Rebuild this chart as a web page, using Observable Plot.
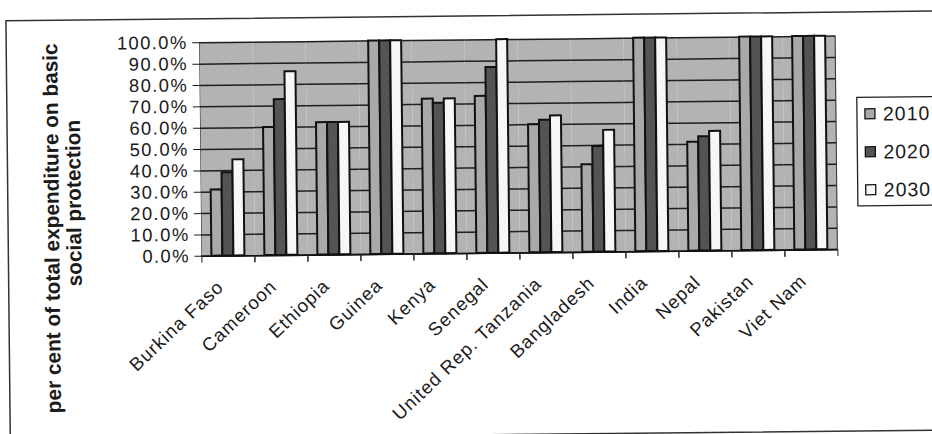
<!DOCTYPE html>
<html>
<head>
<meta charset="utf-8">
<script src="https://cdn.jsdelivr.net/npm/d3@7"></script>
<script src="https://cdn.jsdelivr.net/npm/@observablehq/plot@0.6"></script>
<style>
  html, body { margin: 0; padding: 0; background: #fff; }
  #chart { position: relative; width: 932px; height: 434px; overflow: hidden; }
  /* the printed page sits slightly askew */
  #chart svg { display: block; transform: rotate(-0.6deg); transform-origin: 50% 50%; }
</style>
</head>
<body>
<div id="chart"></div>
<script>
// Share of basic social protection expenditure, by country and year
const countries = ["Burkina Faso", "Cameroon", "Ethiopia", "Guinea", "Kenya", "Senegal",
  "United Rep. Tanzania", "Bangladesh", "India", "Nepal", "Pakistan", "Viet Nam"];
const years = ["2010", "2020", "2030"];
const share2010 = [0.31, 0.60, 0.62, 1.00, 0.725, 0.735, 0.60, 0.41, 1.00, 0.51, 1.00, 1.00];
const share2020 = [0.39, 0.73, 0.62, 1.00, 0.705, 0.87, 0.62, 0.495, 1.00, 0.535, 1.00, 1.00];
const share2030 = [0.45, 0.86, 0.62, 1.00, 0.725, 1.00, 0.64, 0.57, 1.00, 0.56, 1.00, 1.00];
const yTicks = [0, 0.1, 0.2, 0.3, 0.4, 0.5, 0.6, 0.7, 0.8, 0.9, 1.0];
const yTitle = ["per cent of total expenditure on basic", "social protection"];
const barColors = ["#a9a9a9", "#545454", "#f7f7f7"];

const series = [share2010, share2020, share2030];
const rows = countries.flatMap((country, i) =>
  years.map((year, j) => ({country, year, value: series[j][i]})));

const W = 932, H = 434;
const mL = 200, mR = 95, mT = 39.5, mB = 181;
const font = "'Liberation Sans', Arial, Helvetica, sans-serif";

const plot = Plot.plot({
  width: W,
  height: H,
  marginLeft: mL,
  marginRight: mR,
  marginTop: mT,
  marginBottom: mB,
  style: {fontFamily: font, fontSize: "18.4px", color: "#1b1b1b", background: "transparent", overflow: "visible"},
  fx: {domain: countries, paddingInner: 0, paddingOuter: 0, label: null},
  x: {domain: years, paddingInner: 0, paddingOuter: 0.72, axis: null},
  y: {domain: [0, 1], ticks: yTicks, tickFormat: d3.format(".1%"), tickSize: 7, tickPadding: 5, line: true, label: null},
  color: {domain: years, range: barColors},
  marks: [
    Plot.frame({fill: "#b3b3b3", stroke: null}),
    Plot.ruleY(yTicks, {stroke: "#1e1e1e", strokeWidth: 1.5}),
    Plot.barY(rows, {fx: "country", x: "year", y: "value", fill: "year", stroke: "#111", strokeWidth: 2}),
    Plot.ruleY([0], {stroke: "#111", strokeWidth: 1.6}),
    // category boundary ticks under the baseline
    Plot.frame({anchor: "left", insetTop: H - mT - mB, insetBottom: -6, stroke: "#222"}),
    Plot.frame({anchor: "right", insetTop: H - mT - mB, insetBottom: -6, stroke: "#222"}),
    Plot.axisFx({anchor: "bottom", tickRotate: -43, tickSize: 0, tickPadding: 28, dx: -8, fontSize: 18.6, label: null})
  ]
});

const svg = d3.select(plot);
const fx = plot.scale("fx");
const y = plot.scale("y");
const color = plot.scale("color");
const [x0, x1] = fx.range;

// the printed typeface runs wide: open up the tick labels a little
svg.selectAll('g[aria-label="y-axis tick label"]').attr("letter-spacing", 1.4);
svg.selectAll('g[aria-label="fx-axis tick label"]').attr("letter-spacing", 1.0);

// right edge of the plotting area
svg.append("line")
  .attr("x1", x1).attr("x2", x1)
  .attr("y1", y.apply(1)).attr("y2", y.apply(0))
  .attr("stroke", "#333").attr("stroke-width", 1);

// outer chart border
svg.insert("rect", ":first-child")
  .attr("x", 8).attr("y", 16).attr("width", W).attr("height", 419)
  .attr("fill", "#fff").attr("stroke", "#333").attr("stroke-width", 1.5);

// y axis title, two lines
const title = svg.append("g")
  .attr("font-family", font).attr("font-weight", "bold").attr("font-size", 20.8)
  .attr("fill", "#1b1b1b").attr("text-anchor", "middle");
title.append("text").attr("transform", "translate(59,224) rotate(-90)").text(yTitle[0]);
title.append("text").attr("transform", "translate(81,199) rotate(-90)").text(yTitle[1]);

// legend
const lg = svg.append("g").attr("font-family", font).attr("font-size", 19.5)
  .attr("letter-spacing", 1).attr("fill", "#1b1b1b").attr("text-anchor", "start");
lg.append("rect").attr("x", 858).attr("y", 101.5).attr("width", 100).attr("height", 108.5)
  .attr("fill", "#fff").attr("stroke", "#222").attr("stroke-width", 1.3);
years.forEach((yr, i) => {
  const cy = 118 + i * 38;
  lg.append("rect").attr("x", 866).attr("y", cy - 5).attr("width", 10).attr("height", 10)
    .attr("fill", color.apply(yr)).attr("stroke", "#111").attr("stroke-width", 1.3);
  lg.append("text").attr("x", 884).attr("y", cy).attr("dy", "0.35em").text(yr);
});

document.getElementById("chart").appendChild(plot);
</script>
</body>
</html>
